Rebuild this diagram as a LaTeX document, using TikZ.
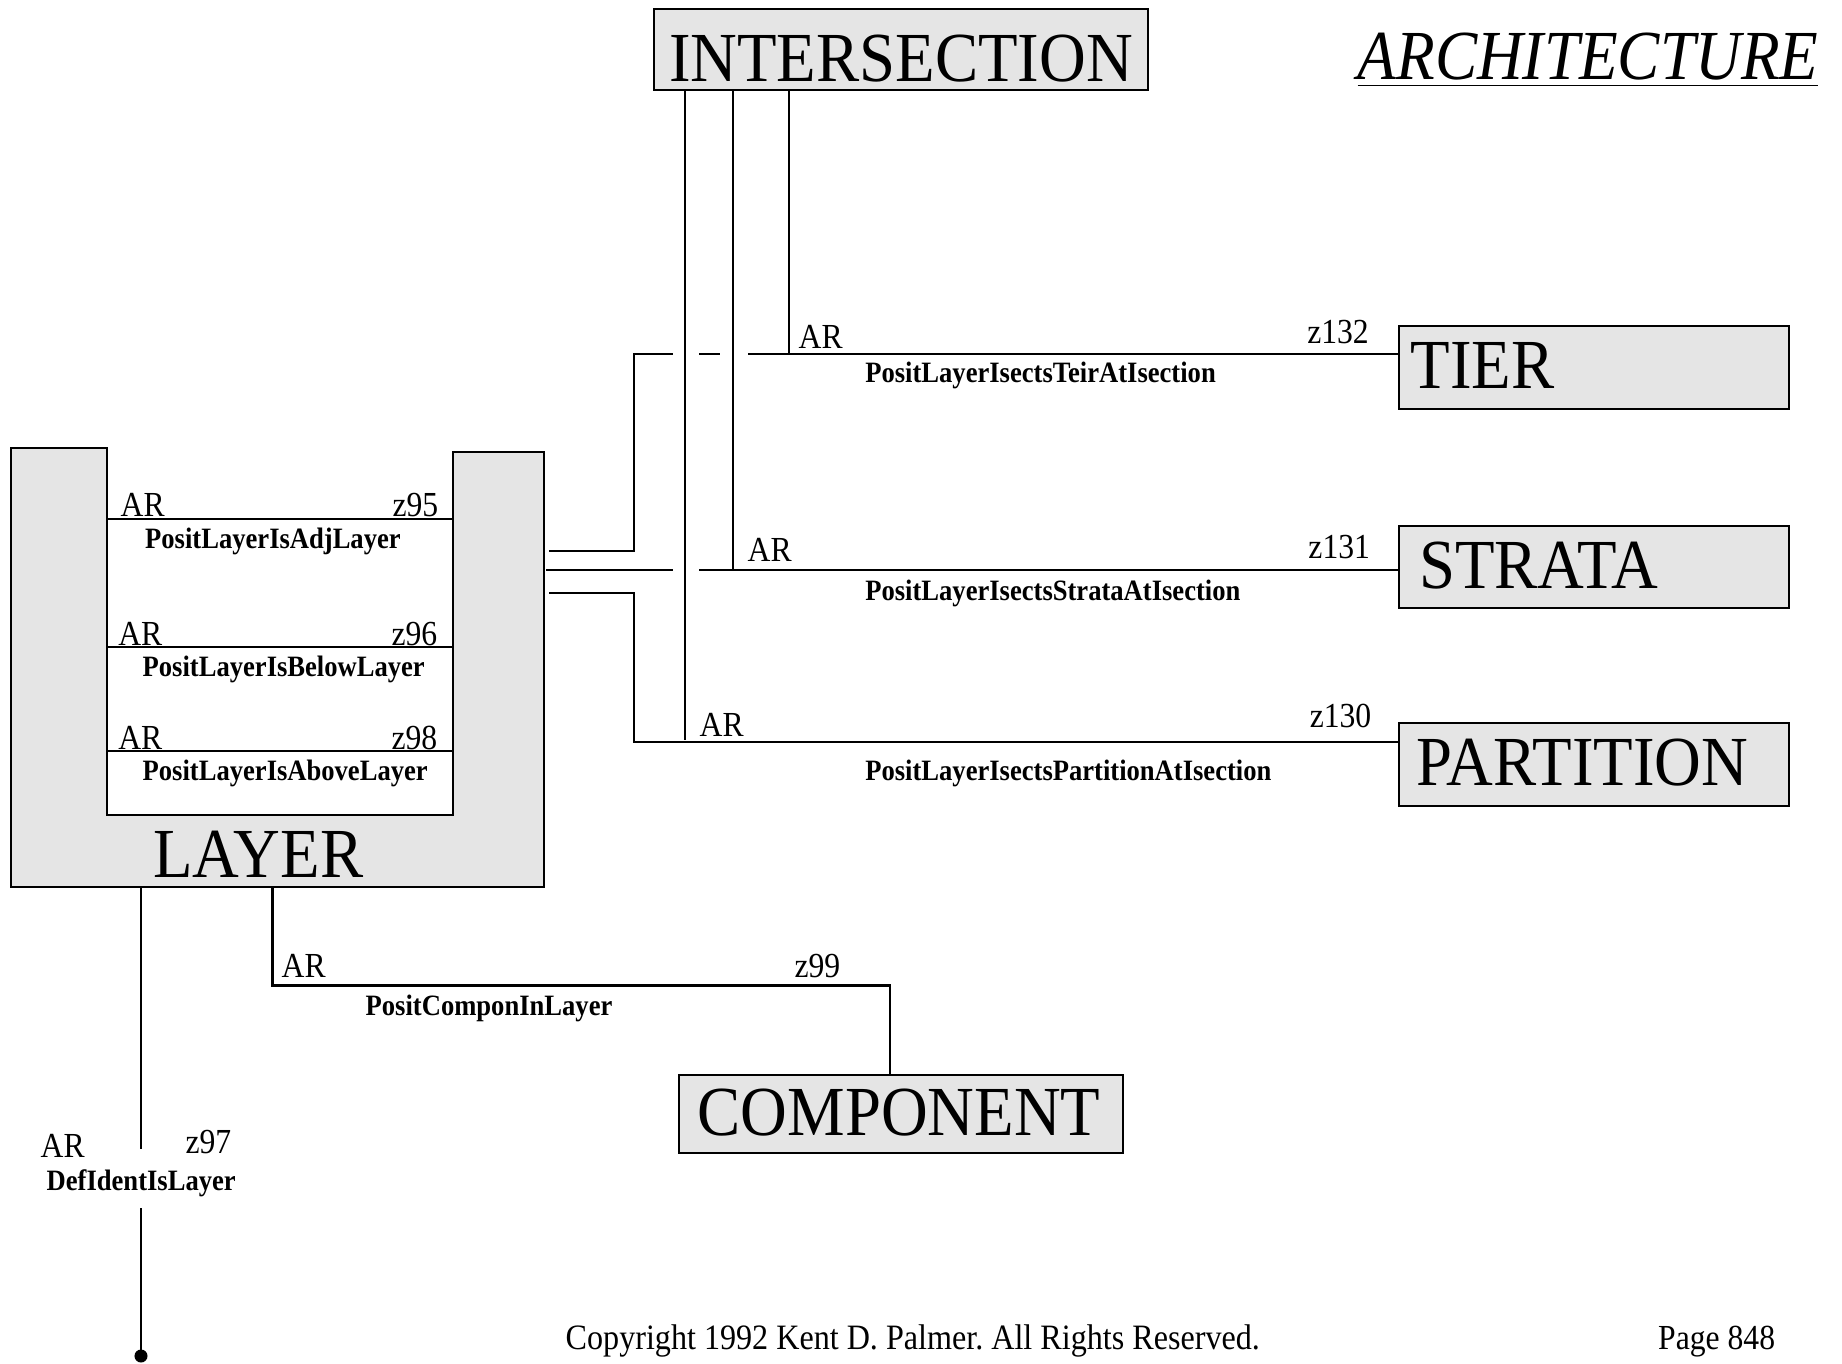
\documentclass[tikz,border=0pt]{standalone}
\usepackage{fontspec}
\setmainfont{Liberation Serif}[FakeStretch=0.9]
\newfontfamily\entfamily{Liberation Serif}[FakeStretch=0.92]
\newcommand\entfont{\entfamily\fontsize{20}{24}\selectfont}
\newcommand\cardfont{\fontsize{10}{12}\selectfont}
\newcommand\relfont{\fontsize{8.4}{10}\selectfont\bfseries}
\tikzset{entity/.style = {rectangle, draw, fill = black!10, semithick, anchor = north west, font = \entfont, inner xsep = 0.17cm, inner ysep = 0pt, text height = 0.42cm, text depth = 0pt, align = left},
	card/.style = {font = \cardfont, inner sep = 0pt, anchor = base west},
	cardr/.style = {card, anchor = base east},
	relname/.style = {font = \relfont, inner sep = 0pt, anchor = base west},
	link/.style = {semithick}}
\frenchspacing

\begin{document}
\begin{tikzpicture}[x = 0.01cm, y = -0.01cm]
 \useasboundingbox (0,0) rectangle (1842,1364);

 \node (isect) at (653,8) [entity, inner xsep = 0.15cm, text width = 4.635cm, minimum height = 0.81cm, text height = 0.63cm] {INTERSECTION};
 \node (arch) at (1357,80) [font = \fontsize{20}{24}\selectfont\itshape, inner sep = 0pt, anchor = base west] {\underline{ARCHITECTURE}};

 \node (tier) at (1398,325) [entity, inner xsep = 0.116cm, text width = 3.668cm, minimum height = 0.83cm] {TIER};
 \node (strata) at (1398,525) [entity, inner xsep = 0.2cm, text width = 3.5cm, minimum height = 0.82cm] {STRATA};
 \node (partition) at (1398,722) [entity, inner xsep = 0.175cm, text width = 3.55cm, minimum height = 0.83cm] {PARTITION};
 \node (compon) at (678,1074) [entity, inner xsep = 0.186cm, text width = 4.068cm, minimum height = 0.78cm] {COMPONENT};

 \filldraw [fill = black!10, semithick] (10.6,448) -- (107,448) -- (107,815) -- (453,815) -- (453,452) -- (544,452) -- (544,887) -- (10.6,887) -- cycle;
 \node (layer) at (152.7,877.5) [font = \entfont, inner sep = 0pt, anchor = base west] {LAYER};

 \coordinate (adjW) at (107,519);
 \coordinate (adjE) at (453,519);
 \draw [link] (adjW) -- (adjE);
 \node (adjAR) at (120,517) [card] {AR};
 \node (adjZ) at (439,517) [cardr] {z95};
 \node (adjRel) at (144.5,548.5) [relname] {PositLayerIsAdjLayer};

 \coordinate (belowW) at (107,647);
 \coordinate (belowE) at (453,647);
 \draw [link] (belowW) -- (belowE);
 \node (belowAR) at (117.6,645) [card] {AR};
 \node (belowZ) at (438,645) [cardr] {z96};
 \node (belowRel) at (142,676.5) [relname] {PositLayerIsBelowLayer};

 \coordinate (aboveW) at (107,751);
 \coordinate (aboveE) at (453,751);
 \draw [link] (aboveW) -- (aboveE);
 \node (aboveAR) at (117.6,749) [card] {AR};
 \node (aboveZ) at (438,749) [cardr] {z98};
 \node (aboveRel) at (142,780.5) [relname] {PositLayerIsAboveLayer};

 \coordinate (layerT) at (549,551);
 \coordinate (layerS) at (546,570);
 \coordinate (layerP) at (549,593);
 \coordinate (bendT) at (634,354);
 \coordinate (bendP) at (634,742);
 \coordinate (isT) at (789,354);
 \coordinate (isS) at (733,570);
 \coordinate (isP) at (685,740);

 \draw [link] (layerT) -| (bendT) -- ++(39,0) ++(26,0) -- ++(21,0) ++(28,0) -- (tier.west |- bendT);
 \draw [link] (layerS) -- ++(127,0) ++(26,0) -- (strata.west |- layerS);
 \draw [link] (layerP) -| (bendP) -- (partition.west |- bendP);
 \draw [link] (isect.south -| isT) -- (isT);
 \draw [link] (isect.south -| isS) -- (isS);
 \draw [link] (isect.south -| isP) -- (isP);

 \node (tierAR) at (798,349) [card] {AR};
 \node (tierZ) at (1369.5,344) [cardr] {z132};
 \node (tierRel) at (864.6,382.5) [relname] {PositLayerIsectsTeirAtIsection};

 \node (strataAR) at (747,561.5) [card] {AR};
 \node (strataZ) at (1370.7,559) [cardr] {z131};
 \node (strataRel) at (864.6,600.5) [relname] {PositLayerIsectsStrataAtIsection};

 \node (partAR) at (699,736.5) [card] {AR};
 \node (partZ) at (1372,727) [cardr] {z130};
 \node (partRel) at (864.6,780) [relname] {PositLayerIsectsPartitionAtIsection};

 \coordinate (layerC) at (272.5,887);
 \coordinate (bendC) at (890,985.5);
 \draw [link] (layerC) |- (bendC) -- (compon.north -| bendC);
 \node (componAR) at (281,977) [card] {AR};
 \node (componZ) at (841,977) [cardr] {z99};
 \node (componRel) at (365,1015) [relname] {PositComponInLayer};

 \coordinate (layerD) at (141,887);
 \coordinate (identEnd) at (141,1356);
 \draw [link] (layerD) -- ++(0,262);
 \draw [link] (identEnd) -- ++(0,-148);
 \fill (identEnd) circle [radius = 0.065cm];
 \node (identAR) at (40,1157) [card] {AR};
 \node (identZ) at (232,1153) [cardr] {z97};
 \node (identRel) at (46,1190) [relname] {DefIdentIsLayer};

 \node (copy) at (565,1349.5) [card, font = \fontsize{10.15}{12}\selectfont] {Copyright 1992 Kent D. Palmer. All Rights Reserved.};
 \node (page) at (1657.5,1349.5) [card] {Page 848};

\end{tikzpicture}
\end{document}
